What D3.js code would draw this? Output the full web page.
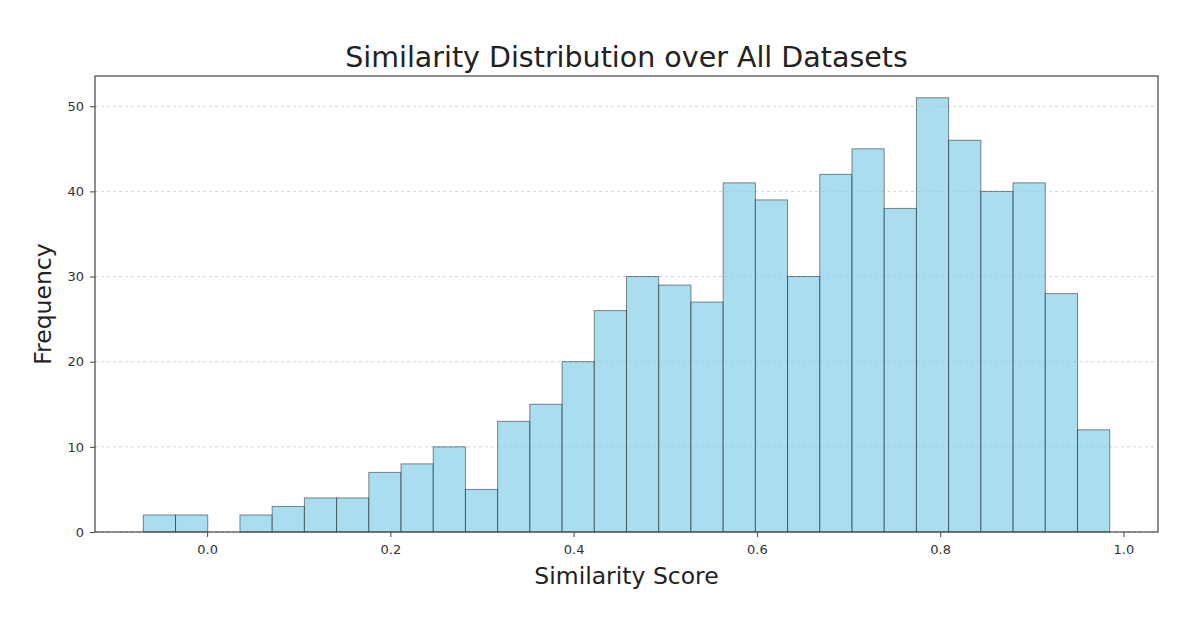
<!DOCTYPE html>
<html><head><meta charset="utf-8">
<script src="https://cdn.jsdelivr.net/npm/d3@7"></script>
<style>body{margin:0;background:#fff}svg{display:block}text{font-family:"DejaVu Sans",sans-serif}</style>
</head><body><svg id="c" width="1200" height="635"></svg>
<script>
const binStart = -0.0696, binEnd = 0.985;
const counts = [2,2,0,2,3,4,4,7,8,10,5,13,15,20,26,30,29,27,41,39,30,42,45,38,51,46,40,41,28,12];
const xTicks = [0.0,0.2,0.4,0.6,0.8,1.0];
const yTicks = [0,10,20,30,40,50];

const svg = d3.select("#c");
const L=95,R=1158,T=76,B=532;
const n = counts.length, w = (binEnd-binStart)/n;
const span = binEnd-binStart;
const x = d3.scaleLinear().domain([binStart-0.05*span, binEnd+0.05*span]).range([L,R]);
const y = d3.scaleLinear().domain([0, d3.max(counts)*1.05]).range([B,T]);

// grid
svg.append("g").selectAll("line").data(yTicks).join("line")
  .attr("x1",L).attr("x2",R).attr("y1",d=>y(d)).attr("y2",d=>y(d))
  .attr("stroke","#b0b0b0").attr("stroke-opacity",0.7).attr("stroke-dasharray","3,3").attr("stroke-width",0.8);

// bars
svg.append("g").selectAll("rect").data(counts).join("rect")
  .attr("x",(d,i)=>x(binStart+i*w)).attr("width",(d,i)=>x(binStart+(i+1)*w)-x(binStart+i*w))
  .attr("y",d=>y(d)).attr("height",d=>B-y(d))
  .attr("fill","#87CEEB").attr("fill-opacity",0.7)
  .attr("stroke","#000").attr("stroke-opacity",0.45).attr("stroke-width",1);

// axes
const xa = svg.append("g").attr("transform",`translate(0,${B})`)
  .call(d3.axisBottom(x).tickValues(xTicks).tickFormat(d3.format(".1f")).tickSize(5).tickPadding(8));
const ya = svg.append("g").attr("transform",`translate(${L},0)`)
  .call(d3.axisLeft(y).tickValues(yTicks).tickSize(5).tickPadding(6));
[xa,ya].forEach(a=>{a.select(".domain").remove();
  a.selectAll(".tick line").attr("stroke","#444");
  a.selectAll(".tick text").attr("font-size",13).attr("fill","#333").attr("font-family","DejaVu Sans");});

// frame
svg.append("rect").attr("x",L).attr("y",T).attr("width",R-L).attr("height",B-T)
  .attr("fill","none").attr("stroke","#444").attr("stroke-width",1.2);

// labels
svg.append("text").attr("x",(L+R)/2).attr("y",67).attr("text-anchor","middle")
  .attr("font-size",28.5).attr("fill","#222").text("Similarity Distribution over All Datasets");
svg.append("text").attr("x",(L+R)/2).attr("y",584).attr("text-anchor","middle")
  .attr("font-size",23.5).attr("fill","#222").text("Similarity Score");
svg.append("text").attr("transform",`translate(51,${(T+B)/2}) rotate(-90)`).attr("text-anchor","middle")
  .attr("font-size",23.5).attr("fill","#222").text("Frequency");
</script></body></html>
